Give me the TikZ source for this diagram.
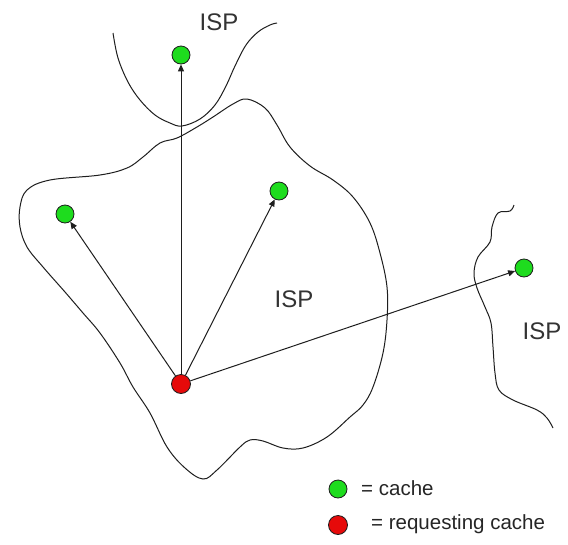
\documentclass[tikz,border=0pt]{standalone}
\usepackage{fontspec}
\setmainfont{Liberation Sans}
\usetikzlibrary{arrows.meta}
\definecolor{cachegreen}{RGB}{30,220,30}
\definecolor{reqred}{RGB}{230,10,10}
\definecolor{edge}{RGB}{30,30,30}
\tikzset{
  cache/.style={circle, draw=edge, line width=0.8pt, fill=cachegreen, minimum size=18pt, inner sep=0pt},
  reqcache/.style={circle, draw=edge, line width=0.8pt, fill=reqred, minimum size=19pt, inner sep=0pt},
  border/.style={draw=edge, line width=1pt},
  link/.style={draw=edge, line width=1pt, -{Triangle[length=7pt,width=6pt]}},
  isplabel/.style={font=\fontsize{24}{26}\selectfont, text=black!80, inner sep=0pt},
  legendtext/.style={font=\fontsize{20.5}{22}\selectfont, text=black!85, inner sep=0pt, anchor=west}
}
\begin{document}
\begin{tikzpicture}[x=1pt, y=-1pt]
\useasboundingbox[fill=white] (0,0) rectangle (568,544);

% network boundaries
\draw[border] plot[smooth, tension=0.6] coordinates {
  (113,33) (118,58) (128,82) (140,100) (155,115) (170,123) (182,126)
  (200,119) (215,105) (226,86) (235,66) (246,45) (258,32) (270,25) (277,23)};
\draw[border] plot[smooth cycle, tension=0.6] coordinates {
  (247,99) (265,108) (277,125) (290,147) (310,166) (333,180) (353,197)
  (370,223) (380,253) (387,287) (387,320) (383,353) (373,387) (363,405)
  (350,417) (327,437) (303,448) (283,448) (263,441) (250,440) (240,447)
  (217,470) (203,479) (185,468) (167,447) (150,413) (133,387) (120,363)
  (100,333) (83,313) (65,292) (43,267) (27,247) (20,227) (20,207) (27,190)
  (50,180) (100,175) (127,168) (143,157) (160,143) (177,138) (197,127)
  (213,117) (233,104)};
\draw[border] plot[smooth, tension=0.6] coordinates {
  (514,205) (510,211) (498,213) (492,227) (490,242) (478,257) (474,273)
  (477,288) (485,307) (491,323) (493,347) (495,373) (499,390) (513,400)
  (537,410) (547,418) (553,428)};

% ISP labels
\node[isplabel] (ispTop) at (219,22) {ISP};
\node[isplabel] (ispMid) at (294,299) {ISP};
\node[isplabel] (ispRight) at (542,331) {ISP};

% caches
\node[cache] (cTop) at (181,55) {};
\node[cache] (cLeft) at (65,214) {};
\node[cache] (cMid) at (279,191) {};
\node[cache] (cRight) at (524,268) {};
\node[reqcache] (req) at (181,384) {};

% requests from the requesting cache
\draw[link] (req) -- (cTop);
\draw[link] (req) -- (cLeft);
\draw[link] (req) -- (cMid);
\draw[link] (req) -- (cRight);

% legend
\node[cache] (legCache) at (338,489) {};
\node[legendtext] (legCacheText) at (361,488) {= cache};
\node[reqcache] (legReq) at (338,525) {};
\node[legendtext] (legReqText) at (371,524) {= requesting cache};
\end{tikzpicture}
\end{document}
